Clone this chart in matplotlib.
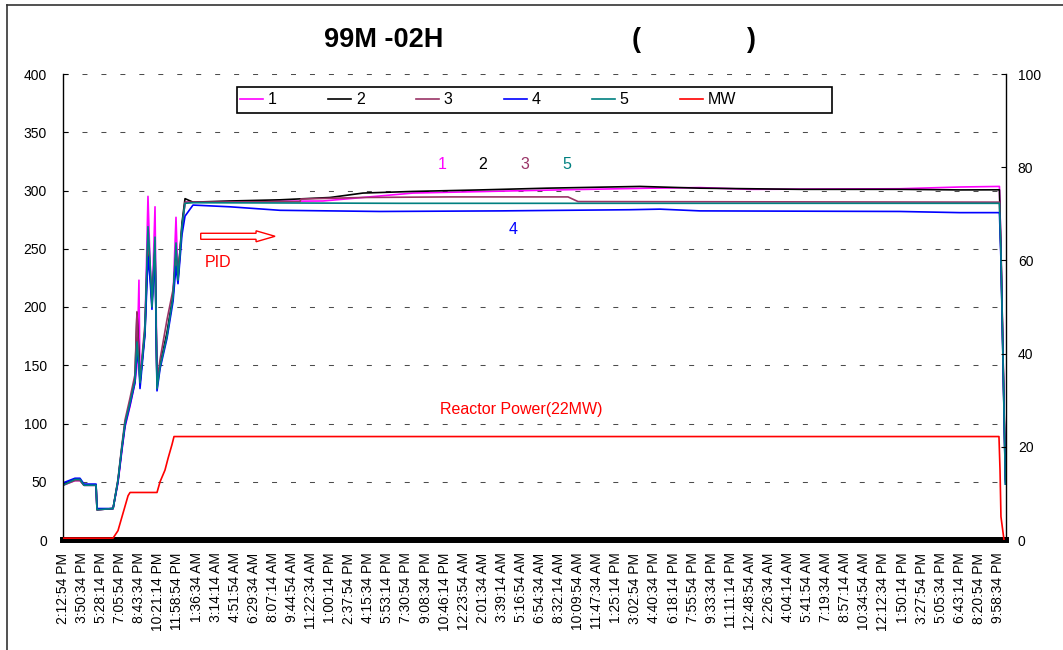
import numpy as np
import matplotlib
matplotlib.use('Agg')
import matplotlib.pyplot as plt
import matplotlib.patches as mpatches
from matplotlib.lines import Line2D

plt.rcParams['font.family'] = ['Liberation Sans', 'DejaVu Sans']

# time axis: hours after 2:12:54 PM, one label every 1:37:40
tick_labels = ['2:12:54 PM', '3:50:34 PM', '5:28:14 PM', '7:05:54 PM', '8:43:34 PM',
               '10:21:14 PM', '11:58:54 PM', '1:36:34 AM', '3:14:14 AM', '4:51:54 AM',
               '6:29:34 AM', '8:07:14 AM', '9:44:54 AM', '11:22:34 AM', '1:00:14 PM',
               '2:37:54 PM', '4:15:34 PM', '5:53:14 PM', '7:30:54 PM', '9:08:34 PM',
               '10:46:14 PM', '12:23:54 AM', '2:01:34 AM', '3:39:14 AM', '5:16:54 AM',
               '6:54:34 AM', '8:32:14 AM', '10:09:54 AM', '11:47:34 AM', '1:25:14 PM',
               '3:02:54 PM', '4:40:34 PM', '6:18:14 PM', '7:55:54 PM', '9:33:34 PM',
               '11:11:14 PM', '12:48:54 AM', '2:26:34 AM', '4:04:14 AM', '5:41:54 AM',
               '7:19:34 AM', '8:57:14 AM', '10:34:54 AM', '12:12:34 PM', '1:50:14 PM',
               '3:27:54 PM', '5:05:34 PM', '6:43:14 PM', '8:20:54 PM', '9:58:34 PM']
tick_step = 1 + 37 / 60 + 40 / 3600

# warm-up phase (shared time points)
warm_t = [0.00, 1.02, 1.45, 1.79, 2.82, 2.90, 4.27, 4.69, 5.03, 5.29, 5.72, 6.14, 6.31, 6.48,
          6.57, 6.99, 7.25, 7.42, 7.59, 7.85, 8.02, 8.28, 8.87, 9.39, 9.64, 9.81, 10.15, 10.41, 11.09]
warm_1 = [47, 51, 51, 47, 47, 26, 27, 49, 77, 97, 115, 135, 150, 223, 135, 180, 295, 240, 200,
          286, 135, 150, 176, 209, 277, 223, 268, 290, 290]
warm_2 = [48, 52, 52, 47, 47, 26, 27, 51, 80, 100, 118, 137, 195, 160, 135, 178, 255, 230, 205,
          250, 133, 150, 178, 210, 245, 225, 272, 293, 290]
warm_3 = [47, 51, 51, 47, 47, 26, 27, 52, 82, 103, 122, 142, 196, 150, 138, 185, 260, 235, 205,
          250, 135, 155, 189, 215, 240, 228, 268, 290, 290]
warm_4 = [49, 53, 53, 48, 48, 27, 27, 50, 78, 98, 116, 135, 160, 150, 130, 176, 243, 225, 198,
          245, 128, 147, 173, 205, 235, 220, 262, 278, 287.5]
warm_5 = [47, 52, 52, 47, 47, 26, 27, 51, 80, 100, 118, 137, 170, 150, 135, 180, 269, 240, 200,
          260, 130, 149, 175, 209, 255, 223, 269, 289, 289.5]

# steady phase + shutdown
run_t1 = [14.25, 22.18, 29.86, 42.66, 50.08, 54.34, 58.6, 71.4, 76.5, 79.89, 80.02, 80.40]
run_1 = [290.5, 291, 297.8, 300.6, 302, 302.5, 301, 301.5, 303, 303.5, 250, 55]
run_t2 = [14.25, 18.51, 22.78, 25.59, 29.86, 35.57, 41.29, 49.22, 54.34, 62.87, 71.4, 76.5,
          79.89, 80.02, 80.40]
run_2 = [291, 292, 294, 297.8, 299.2, 300.5, 302, 303.5, 302, 301, 301, 300.5, 300.6, 250, 52]
run_t3 = [20.22, 20.30, 25.59, 33.0, 43.08, 43.94, 79.89, 80.02, 80.40]
run_3 = [290.5, 292.7, 294, 294.5, 294.5, 290.5, 290, 245, 50]
run_t4 = [14.25, 18.51, 27.04, 37.28, 48.37, 50.93, 54.34, 71.4, 76.5, 79.89, 80.02, 80.40]
run_4 = [286, 283, 282, 282.5, 283.5, 284, 282.5, 282, 281, 281, 240, 48]
run_t5 = [28.75, 79.89, 80.02, 80.40]
run_5 = [289, 289, 245, 48]

# reactor power (right axis)
mw_t = [0.00, 4.27, 4.69, 5.55, 5.72, 8.02, 8.28, 8.70, 8.96, 9.30, 9.47, 79.85, 79.94, 80.02, 80.28]
mw_v = [0.4, 0.4, 2, 9.5, 10.2, 10.2, 12.5, 15, 17.5, 20.5, 22.2, 22.2, 15, 5, 0]

names = ['1', '2', '3', '4', '5']
colors = ['#FF00FF', '#000000', '#993366', '#0000FF', '#008080']
series = [(warm_1, run_t1, run_1), (warm_2, run_t2, run_2), (warm_3, run_t3, run_3),
          (warm_4, run_t4, run_4), (warm_5, run_t5, run_5)]

W, H = 1063, 650
fig = plt.figure(figsize=(W / 100, H / 100), dpi=100)
ax = fig.add_axes([63 / W, 1 - 540 / H, (1006 - 63) / W, (540 - 74) / H])
ax2 = ax.twinx()

for y in range(50, 401, 50):
    ax.axhline(y, color='0.3', lw=0.75, ls=(0, (4.8, 13.4)), zorder=1)

handles = []
for name, c, (w, rt, rv) in zip(names, colors, series):
    h, = ax.plot(warm_t + rt, w + rv, color=c, lw=1.2, label=name, zorder=2)
    handles.append(h)
h, = ax2.plot(mw_t, mw_v, color='#FF0000', lw=1.2, label='MW', zorder=3)
handles.append(h)

ax.set_xlim(0, 80.45)
ax.set_ylim(0, 400)
ax2.set_ylim(0, 100)
ax.set_yticks(range(0, 401, 50))
ax2.set_yticks(range(0, 101, 20))
ax.set_xticks(np.arange(len(tick_labels)) * tick_step)
ax.set_xticklabels(tick_labels, rotation=90)

ax.tick_params(axis='y', direction='in', length=3.5, width=0.8, pad=11.5, labelsize=10)
ax2.tick_params(axis='y', direction='in', length=3.5, width=0.8, pad=8.5, labelsize=10)
ax.tick_params(axis='x', length=0, pad=9, labelsize=10)

ax.spines['top'].set_visible(False)
ax.spines['right'].set_visible(False)
ax.spines['bottom'].set_linewidth(4.3)
ax.spines['left'].set_linewidth(1.0)
for s in ['top', 'left', 'bottom']:
    ax2.spines[s].set_visible(False)
ax2.spines['right'].set_linewidth(1.0)

# annotations
ax.text(32.31, 321.9, '1', color='#FF00FF', fontsize=11.5, ha='center', va='center')
ax.text(35.80, 321.9, '2', color='#000000', fontsize=11.5, ha='center', va='center')
ax.text(39.41, 321.9, '3', color='#993366', fontsize=11.5, ha='center', va='center')
ax.text(42.97, 321.9, '5', color='#008080', fontsize=11.5, ha='center', va='center')
ax.text(38.41, 266.1, '4', color='#0000FF', fontsize=11.5, ha='center', va='center')
ax.text(13.27, 237.8, 'PID', color='#FF0000', fontsize=11.5, ha='center', va='center')
ax.text(39.13, 111.6, 'Reactor Power(22MW)', color='#FF0000', fontsize=11.5, ha='center', va='center')
ax.add_patch(mpatches.FancyArrow(11.75, 260.7, 6.34, 0, width=5.15, head_width=9.4,
                                 head_length=1.62, length_includes_head=True,
                                 fc='white', ec='#FF0000', lw=1.0, zorder=4))

# legend
fig.legend(handles, names + ['MW'], ncol=6, loc='center left',
           bbox_to_anchor=(240 / W, 1 - 100 / H), frameon=False, handlelength=1.44,
           handletextpad=0.31, columnspacing=3.2, borderpad=0, borderaxespad=0, fontsize=11.5)
fig.add_artist(mpatches.Rectangle((237 / W, 1 - 113 / H), 595 / W, 26 / H,
                                  transform=fig.transFigure, fill=False, ec='black', lw=1.2))

# title
fig.text(384 / W, 1 - 40 / H, '99M -02H', fontsize=19.5, fontweight='bold', ha='center', va='center')
fig.text(636 / W, 1 - 40 / H, '(', fontsize=19.5, fontweight='bold', ha='center', va='center')
fig.text(751 / W, 1 - 40 / H, ')', fontsize=19.5, fontweight='bold', ha='center', va='center')

# outer frame
fig.add_artist(Line2D([6.5 / W, 6.5 / W], [0, 1 - 5 / H], transform=fig.transFigure, color='#333333', lw=1.2))
fig.add_artist(Line2D([6.5 / W, 1], [1 - 5 / H, 1 - 5 / H], transform=fig.transFigure, color='#333333', lw=1.2))

fig.savefig('out.png', dpi=100)
